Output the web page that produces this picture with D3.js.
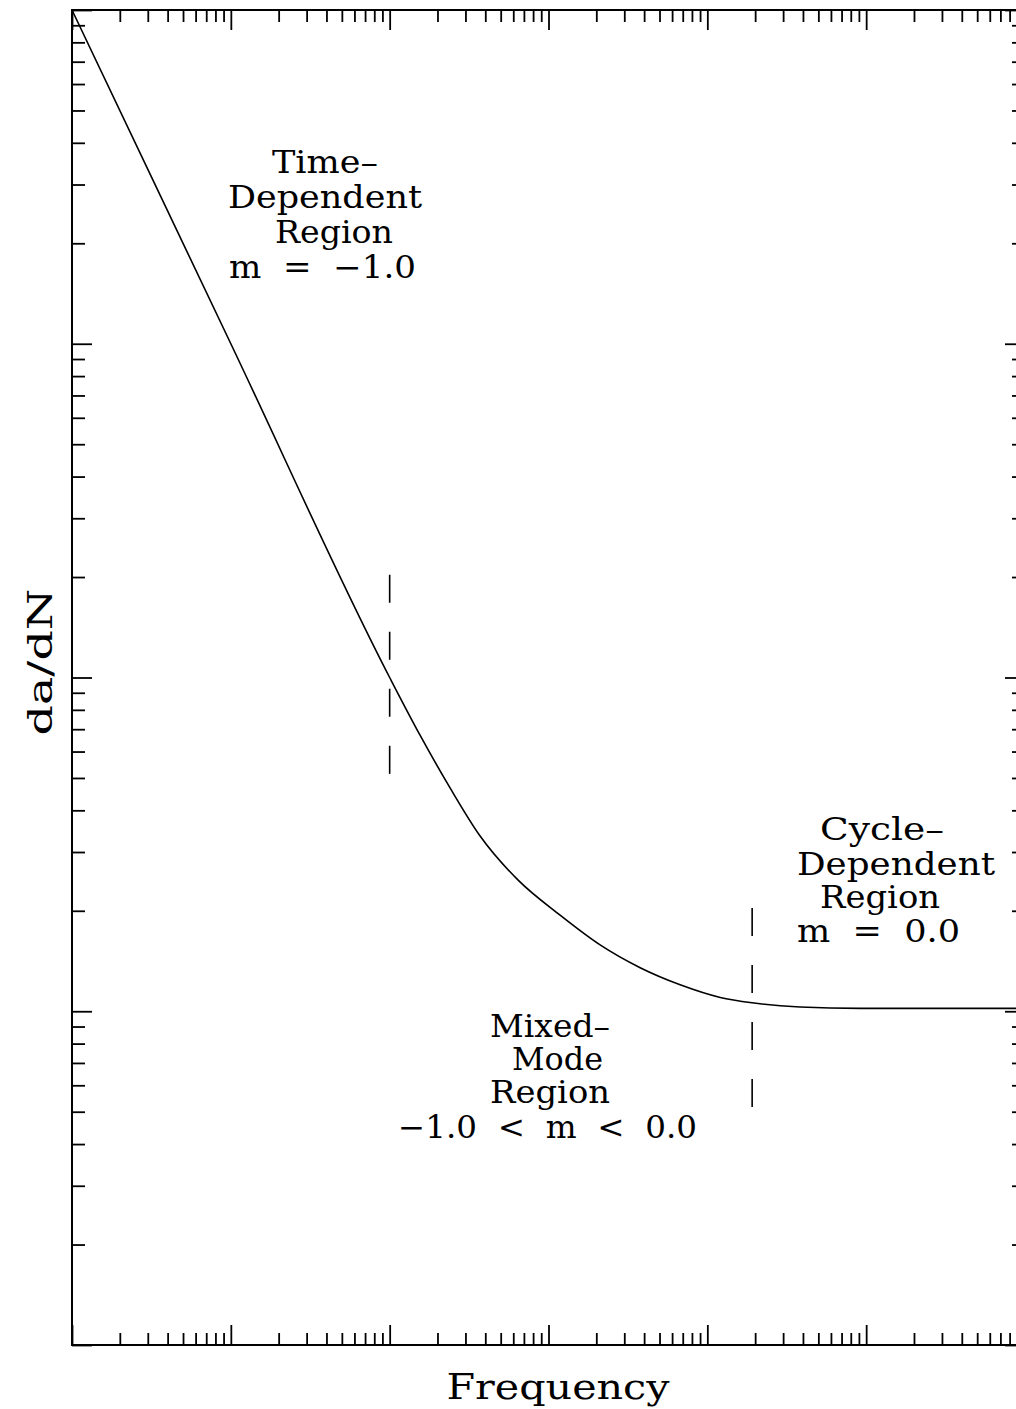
<!DOCTYPE html>
<html>
<head>
<meta charset="utf-8">
<script src="https://cdn.jsdelivr.net/npm/d3@7"></script>
<style>
  html, body { margin: 0; padding: 0; background: #fff; }
  svg { display: block; }
  text { font-family: "DejaVu Serif", "Liberation Serif", serif; fill: #000; }
</style>
</head>
<body>
<svg id="chart" width="1016" height="1409"></svg>
<script>
// ---- data ----
const xDomain = [1, 1e6];
const yDomain = [1, 1e4];
const xMajorTicks = [1, 10, 100, 1e3, 1e4, 1e5, 1e6];
const yMajorTicks = [1, 10, 100, 1e3, 1e4];
const minorMultipliers = [2, 3, 4, 5, 6, 7, 8, 9];

// curve: frequency vs da/dN
const curveFreq = [1, 10, 100, 155, 240, 371, 644, 1183, 2113, 3776, 6745, 12050, 19150, 38370, 91600, 1e6];
const curveRate = [1e4, 1000, 100, 67.3, 46.7, 33.5, 24.7, 19.4, 15.8, 13.5, 12.0, 11.0, 10.6, 10.3, 10.2, 10.2];

// dashed region boundaries
const boundaryFreq = [100, 19150];
const boundaryLow = [51, 5.13];
const boundaryHigh = [203, 20.4];

// annotation text blocks
const timeLines = ["Time\u2013", "Dependent", "Region", "m  =  \u22121.0"];
const cycleLines = ["Cycle\u2013", "Dependent", "Region", "m  =  0.0"];
const mixedLines = ["Mixed\u2013", "Mode", "Region", "\u22121.0  <  m  <  0.0"];
const xLabel = "Frequency";
const yLabel = "da/dN";

// ---- layout ----
const mLeft = 72, mRight = 1025, mTop = 10, mBottom = 1345;
const svg = d3.select("#chart");

const x = d3.scaleLog().domain(xDomain).range([mLeft, mRight]);
const y = d3.scaleLog().domain(yDomain).range([mBottom, mTop]);

function minorOf(majors) {
  const out = [];
  for (let i = 0; i < majors.length - 1; i++)
    minorMultipliers.forEach(m => out.push(majors[i] * m));
  return out;
}
const xMinor = minorOf(xMajorTicks);
const yMinor = minorOf(yMajorTicks);

function styleAxis(g) {
  g.select(".domain").remove();
  g.selectAll("line").attr("stroke", "#000").attr("stroke-width", 1.8);
  g.selectAll("text").remove();
}

// top axis (ticks inward = downward)
svg.append("g").attr("transform", `translate(0,${mTop})`)
  .call(d3.axisBottom(x).tickValues(xMajorTicks).tickSize(20).tickFormat("")).call(styleAxis);
svg.append("g").attr("transform", `translate(0,${mTop})`)
  .call(d3.axisBottom(x).tickValues(xMinor).tickSize(12).tickFormat("")).call(styleAxis);
// bottom axis (ticks inward = upward)
svg.append("g").attr("transform", `translate(0,${mBottom})`)
  .call(d3.axisTop(x).tickValues(xMajorTicks).tickSize(20).tickFormat("")).call(styleAxis);
svg.append("g").attr("transform", `translate(0,${mBottom})`)
  .call(d3.axisTop(x).tickValues(xMinor).tickSize(12).tickFormat("")).call(styleAxis);
// left axis (ticks inward = rightward)
svg.append("g").attr("transform", `translate(${mLeft},0)`)
  .call(d3.axisRight(y).tickValues(yMajorTicks).tickSize(20).tickFormat("")).call(styleAxis);
svg.append("g").attr("transform", `translate(${mLeft},0)`)
  .call(d3.axisRight(y).tickValues(yMinor).tickSize(13).tickFormat("")).call(styleAxis);
// right axis (ticks inward = leftward)
svg.append("g").attr("transform", `translate(${mRight},0)`)
  .call(d3.axisLeft(y).tickValues(yMajorTicks).tickSize(20).tickFormat("")).call(styleAxis);
svg.append("g").attr("transform", `translate(${mRight},0)`)
  .call(d3.axisLeft(y).tickValues(yMinor).tickSize(13).tickFormat("")).call(styleAxis);

// frame
svg.append("rect")
  .attr("x", mLeft).attr("y", mTop)
  .attr("width", mRight - mLeft).attr("height", mBottom - mTop)
  .attr("fill", "none").attr("stroke", "#000").attr("stroke-width", 2);

// curve
const pts = curveFreq.map((f, i) => [f, curveRate[i]]);
svg.append("path")
  .datum(pts)
  .attr("fill", "none")
  .attr("stroke", "#000")
  .attr("stroke-width", 1.6)
  .attr("d", d3.line().x(d => x(d[0])).y(d => y(d[1])).curve(d3.curveMonotoneX));

// dashed boundaries
boundaryFreq.forEach((f, i) => {
  svg.append("line")
    .attr("x1", x(f)).attr("x2", x(f))
    .attr("y1", y(boundaryHigh[i])).attr("y2", y(boundaryLow[i]))
    .attr("stroke", "#000").attr("stroke-width", 1.6)
    .attr("stroke-dasharray", "28,29");
});

// annotation blocks
function block(lines, specs) {
  lines.forEach((t, i) => {
    const s = specs[i];
    svg.append("text")
      .attr("x", (s[0] + s[1]) / 2).attr("y", s[2])
      .attr("text-anchor", "middle")
      .attr("font-size", 31)
      .attr("textLength", s[1] - s[0])
      .attr("lengthAdjust", "spacingAndGlyphs")
      .style("white-space", "pre")
      .text(t);
  });
}
block(timeLines, [[272, 378, 173], [228, 422, 208], [275, 393, 243], [229, 416, 278]]);
block(cycleLines, [[820, 944, 840], [797, 995, 875], [820, 940, 908], [797, 960, 942]]);
block(mixedLines, [[490, 610, 1037], [512, 603, 1070], [490, 610, 1103], [398, 697, 1138]]);

// axis labels
svg.append("text")
  .attr("x", 558).attr("y", 1399)
  .attr("text-anchor", "middle")
  .attr("font-size", 36)
  .attr("textLength", 223).attr("lengthAdjust", "spacingAndGlyphs")
  .text(xLabel);
svg.append("text")
  .attr("transform", "translate(52,662) rotate(-90)")
  .attr("text-anchor", "middle")
  .attr("font-size", 34)
  .attr("textLength", 147).attr("lengthAdjust", "spacingAndGlyphs")
  .text(yLabel);
</script>
</body>
</html>
